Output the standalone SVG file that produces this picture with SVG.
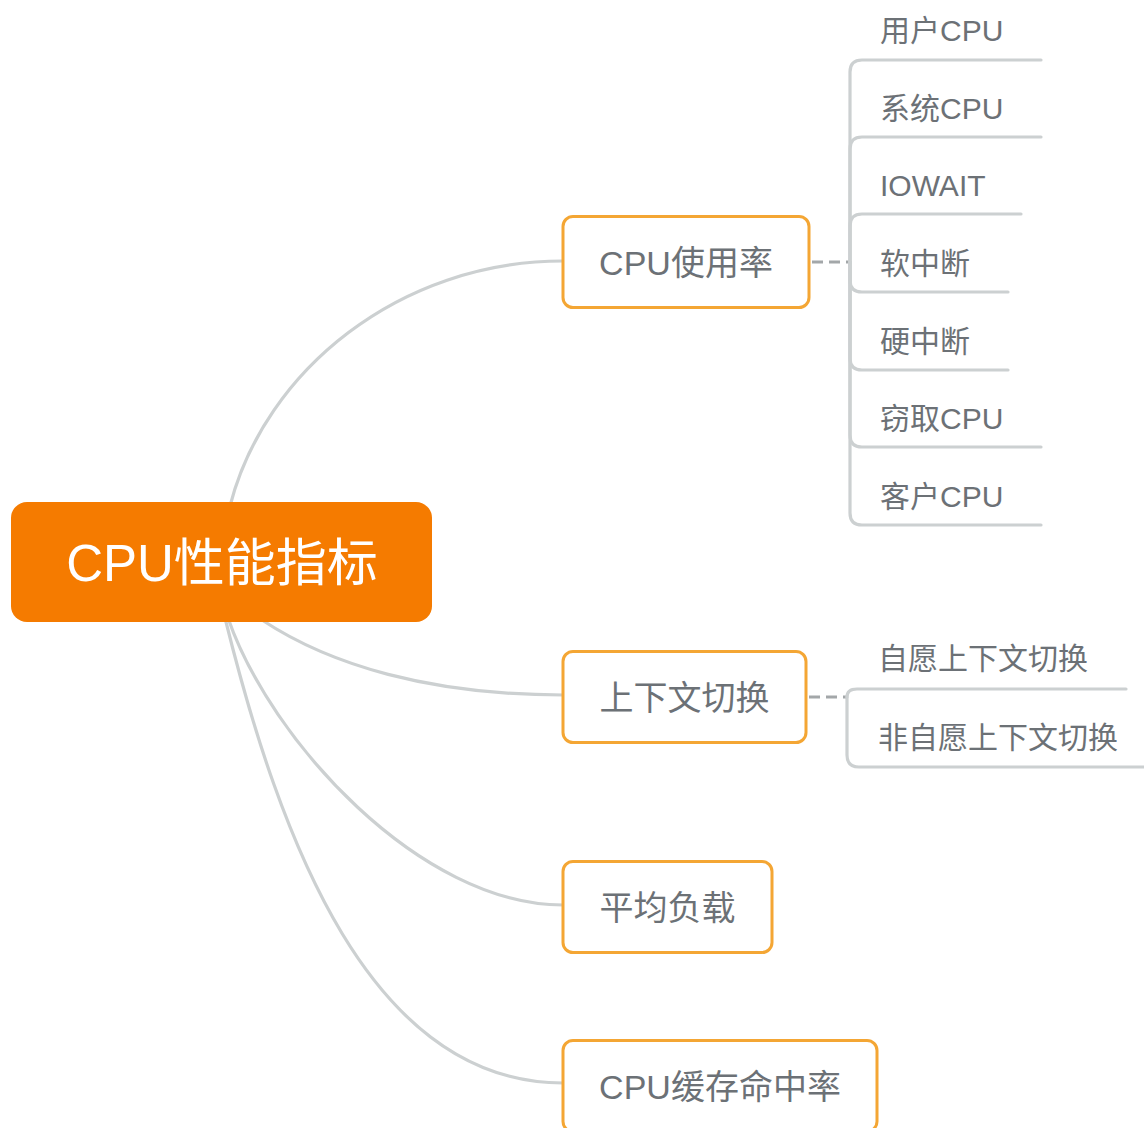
<svg xmlns="http://www.w3.org/2000/svg" width="1144" height="1128" viewBox="0 0 1144 1128">
<style>
.conn{fill:none;stroke:#ccd0d1;stroke-width:3.2;stroke-linecap:round}
.dash{fill:none;stroke:#a3a7a9;stroke-width:3;stroke-dasharray:11 6}
.sub{fill:#ffffff;stroke:#f4a634;stroke-width:3}
.t{font-family:'Liberation Sans','Noto Sans CJK SC',sans-serif;fill:#6c7176}
.l1{font-size:34px;text-anchor:middle}
.l2{font-size:30px}
.root{font-family:'Liberation Sans','Noto Sans CJK SC',sans-serif;font-size:51px;fill:#ffffff;text-anchor:middle}
</style>
<rect width="1144" height="1128" fill="#ffffff"/>
<g id="connectors">
<path class="conn" d="M230,506 C265,370 400,261 563,261"/>
<path class="conn" d="M262,620 C330,665 430,695 563,695"/>
<path class="conn" d="M228,618 C270,740 420,905 563,905"/>
<path class="conn" d="M225,618 C280,840 370,1083 563,1083"/>
<path class="dash" d="M812,262 L850,262"/>
<path class="dash" d="M809,697 L847,697"/>
<path class="conn" d="M850,262 L850,72 Q850,60 862,60 L1041,60"/>
<path class="conn" d="M850,262 L850,149 Q850,137 862,137 L1041,137"/>
<path class="conn" d="M850,262 L850,226 Q850,214 862,214 L1021,214"/>
<path class="conn" d="M850,262 L850,280 Q850,292 862,292 L1008,292"/>
<path class="conn" d="M850,262 L850,358 Q850,370 862,370 L1008,370"/>
<path class="conn" d="M850,262 L850,435 Q850,447 862,447 L1041,447"/>
<path class="conn" d="M850,262 L850,513 Q850,525 862,525 L1041,525"/>
<path class="conn" d="M847,697 Q847,689 857,689 L1126,689"/>
<path class="conn" d="M847,697 L847,755 Q847,767 859,767 L1146,767"/>
</g>
<g id="root">
<rect x="11" y="502" width="421" height="120" rx="16" fill="#f57b00"/>
<text class="root" x="222" y="581">CPU性能指标</text>
</g>
<g id="n-cpu-usage">
<rect class="sub" x="563" y="216.5" width="246" height="91" rx="10"/>
<text class="t l1" x="686" y="275">CPU使用率</text>
</g>
<g id="n-context">
<rect class="sub" x="563" y="651.5" width="243" height="91" rx="10"/>
<text class="t l1" x="684.5" y="710">上下文切换</text>
</g>
<g id="n-load">
<rect class="sub" x="563" y="861.5" width="209" height="91" rx="10"/>
<text class="t l1" x="667.5" y="920">平均负载</text>
</g>
<g id="n-cache">
<rect class="sub" x="563" y="1040.5" width="314" height="91" rx="10"/>
<text class="t l1" x="720" y="1099">CPU缓存命中率</text>
</g>
<g id="n-user"><text class="t l2" x="880" y="41">用户CPU</text></g>
<g id="n-sys"><text class="t l2" x="880" y="119">系统CPU</text></g>
<g id="n-iowait"><text class="t l2" x="880" y="196">IOWAIT</text></g>
<g id="n-softirq"><text class="t l2" x="880" y="274">软中断</text></g>
<g id="n-hardirq"><text class="t l2" x="880" y="352">硬中断</text></g>
<g id="n-steal"><text class="t l2" x="880" y="429">窃取CPU</text></g>
<g id="n-guest"><text class="t l2" x="880" y="507">客户CPU</text></g>
<g id="n-vol"><text class="t l2" x="878" y="669">自愿上下文切换</text></g>
<g id="n-invol"><text class="t l2" x="878" y="748">非自愿上下文切换</text></g>
</svg>
